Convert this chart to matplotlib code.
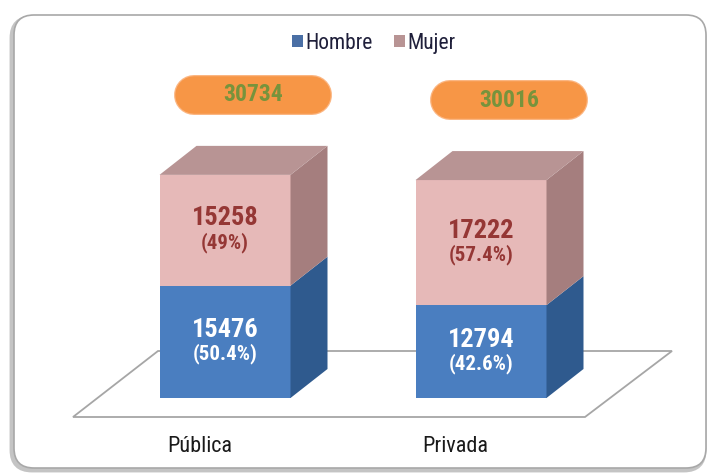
import matplotlib.pyplot as plt
from matplotlib.patches import Polygon, FancyBboxPatch, Patch

# datos
categorias = ["Pública", "Privada"]
hombre = [15476, 12794]
mujer = [15258, 17222]
total = [30734, 30016]
pct_hombre = ["(50.4%)", "(42.6%)"]
pct_mujer = ["(49%)", "(57.4%)"]

fuente = ['Roboto Condensed', 'Liberation Sans Narrow', 'Liberation Sans', 'DejaVu Sans']
plt.rcParams['font.family'] = fuente
plt.rcParams['font.stretch'] = 'condensed'

W, H = 716, 476
fig = plt.figure(figsize=(W / 100, H / 100), dpi=100)

# fondo (marco, pildoras) en pulgadas, y hacia arriba
bg = fig.add_axes([0, 0, 1, 1])
bg.set_xlim(0, W / 100)
bg.set_ylim(0, H / 100)
bg.axis('off')

# ejes de datos: valor 0 en y=398 px, 7.26 px por cada 1000
escala = 0.00726
base = 398
x0, paso = 225, 256
ax = fig.add_axes([0, 0, 1, 1])
ax.set_xlim(-x0 / paso, (W - x0) / paso)
ax.set_ylim(-(H - base) / escala, base / escala)
ax.axis('off')
ax.patch.set_alpha(0)

# marco redondeado con sombra
bg.add_patch(FancyBboxPatch((0.12, 0.06), 6.92, 4.52, boxstyle="round,pad=0,rounding_size=0.2",
                            fc='none', ec='#c4c4c4', lw=3.5))
bg.add_patch(FancyBboxPatch((0.14, 0.08), 6.92, 4.53, boxstyle="round,pad=0,rounding_size=0.2",
                            fc='white', ec='#a8a8a8', lw=1.2))

ancho = 131 / paso
dx = 37 / paso
dy = 29 / escala

# piso
py_front = -(417 - base) / escala
py_back = (base - 351) / escala
piso = [((73 - x0) / paso, py_front), ((585 - x0) / paso, py_front),
        ((672 - x0) / paso, py_back), ((158 - x0) / paso, py_back)]
ax.add_patch(Polygon(piso, closed=True, fc='white', ec='#a6a6a6', lw=1.3))


def caja(x, y0, y1, frente, lado, tapa=None):
    l, r = x - ancho / 2, x + ancho / 2
    ax.add_patch(Polygon([(l, y0), (r, y0), (r, y1), (l, y1)], fc=frente, lw=0))
    ax.add_patch(Polygon([(r, y0), (r + dx, y0 + dy), (r + dx, y1 + dy), (r, y1)], fc=lado, lw=0))
    if tapa:
        ax.add_patch(Polygon([(l, y1), (r, y1), (r + dx, y1 + dy), (l + dx, y1 + dy)], fc=tapa, lw=0))


for i in range(len(categorias)):
    caja(i, 0, hombre[i], '#4a7ec0', '#2f5a8e')
    caja(i, hombre[i], total[i], '#e6b9b8', '#a57e7e', '#b89494')

    mid_h = hombre[i] / 2
    mid_m = hombre[i] + mujer[i] / 2
    off = 12 / escala
    ax.text(i, mid_h + off, str(hombre[i]), ha='center', va='center', color='white',
            fontsize=19, fontweight='bold')
    ax.text(i, mid_h - off, pct_hombre[i], ha='center', va='center', color='white',
            fontsize=15, fontweight='bold')
    ax.text(i, mid_m + off, str(mujer[i]), ha='center', va='center', color='#953735',
            fontsize=19, fontweight='bold')
    ax.text(i, mid_m - off, pct_mujer[i], ha='center', va='center', color='#953735',
            fontsize=15, fontweight='bold')

    ax.text(i - 0.1, -(446 - base) / escala, categorias[i], ha='center', va='center',
            color='#1a1a1a', fontsize=16)

    # pildora con el total (linea gruesa con extremos redondos)
    px, py = bg.transData.inverted().transform(ax.transData.transform((i + 0.11, total[i])))
    py = py + 0.80
    bg.plot([px - 0.59, px + 0.59], [py, py], color='#fbb682', lw=28.8,
            solid_capstyle='round')
    bg.plot([px - 0.59, px + 0.59], [py, py], color='#f79646', lw=27.0,
            solid_capstyle='round')
    bg.text(px, py, str(total[i]), ha='center', va='center', color='#77933c',
            fontsize=17, fontweight='bold')

handles = [Patch(fc='#4a6fa5', ec='none'), Patch(fc='#b89494', ec='none')]
fig.legend(handles, ["Hombre", "Mujer"], loc='center', bbox_to_anchor=(0.522, 0.909),
           ncol=2, frameon=False, fontsize=15.5, handlelength=0.5, handleheight=0.5,
           handletextpad=0.1, columnspacing=1.0, labelcolor='#1f1f3a')

plt.savefig("out.png", dpi=100)
